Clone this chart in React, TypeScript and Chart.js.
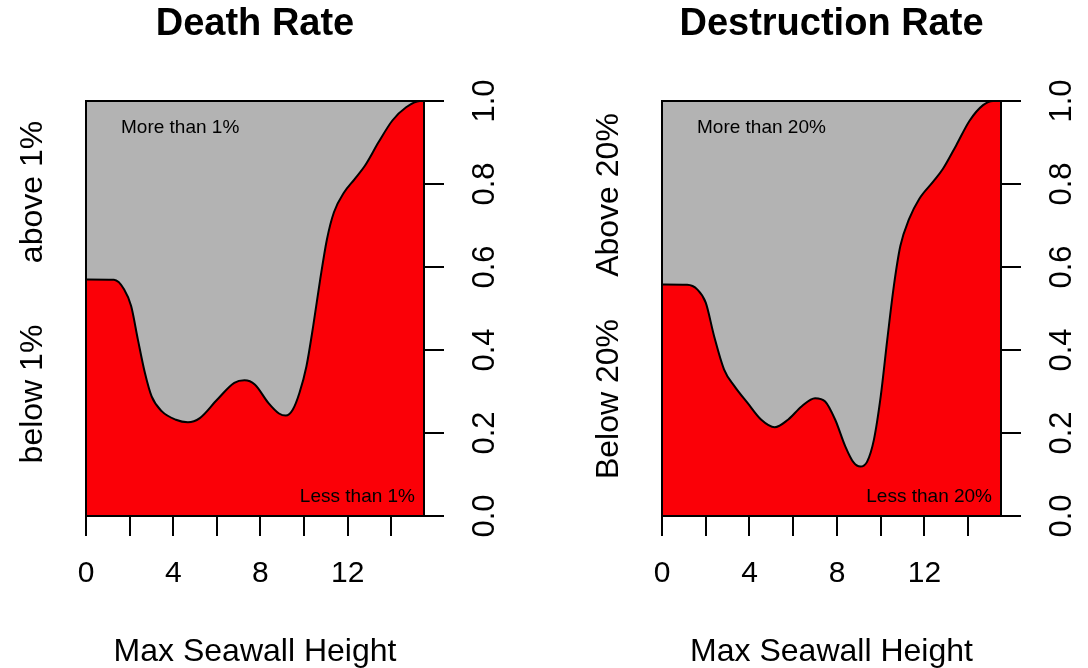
import React, { useEffect, useRef } from "react";
import { Chart, registerables } from "chart.js";

Chart.register(...registerables);

const FONT = '"Liberation Sans", Arial, Helvetica, sans-serif';

// tick values and labels
const xTickValues = [0, 2, 4, 6, 8, 10, 12, 14];
const xTickLabels = ["0", "", "4", "", "8", "", "12", ""];
const yTickValues = [0, 0.2, 0.4, 0.6, 0.8, 1.0];
const yTickLabels = ["0.0", "0.2", "0.4", "0.6", "0.8", "1.0"];

// Death rate panel
const deathHeight = [0, 1.28, 1.75, 2.07, 2.38, 2.7, 3.01, 3.48, 4.12, 4.67, 5.22, 6.01, 6.8, 7.27, 7.74, 8.37, 8.85, 9.16, 9.48, 9.79, 10.11, 10.42, 10.74, 11.05, 11.37, 11.84, 12.32, 12.79, 13.42, 14.05, 14.68, 15.31, 15.5];
const deathShare = [0.57, 0.569, 0.546, 0.506, 0.425, 0.345, 0.288, 0.252, 0.232, 0.226, 0.236, 0.28, 0.321, 0.327, 0.317, 0.272, 0.247, 0.242, 0.256, 0.297, 0.361, 0.458, 0.57, 0.667, 0.732, 0.78, 0.812, 0.844, 0.901, 0.953, 0.985, 1.0, 1.0];

// Destruction rate panel
const destrHeight = [0, 1.15, 1.61, 2.0, 2.38, 2.84, 3.31, 3.92, 4.54, 5.15, 5.76, 6.38, 7.0, 7.46, 7.92, 8.38, 8.76, 9.07, 9.38, 9.69, 10.0, 10.3, 10.6, 10.9, 11.3, 11.76, 12.37, 12.84, 13.45, 14.07, 14.68, 15.14, 15.5];
const destrShare = [0.558, 0.557, 0.546, 0.514, 0.434, 0.353, 0.313, 0.272, 0.232, 0.214, 0.232, 0.264, 0.284, 0.276, 0.232, 0.168, 0.129, 0.119, 0.131, 0.184, 0.288, 0.425, 0.554, 0.651, 0.716, 0.764, 0.804, 0.836, 0.893, 0.953, 0.99, 1.0, 1.0];

const X_MAX = 15.5;
const RED = "#fb0007";
const GRAY = "#b3b3b3";

const panelText = {
  id: "panelText",
  afterDraw(chart: any, _args: any, opts: any) {
    const { ctx, chartArea: a } = chart;
    ctx.save();
    ctx.strokeStyle = "#000";
    ctx.lineWidth = 2;
    ctx.strokeRect(a.left, a.top, a.right - a.left, a.bottom - a.top);
    ctx.fillStyle = "#000";
    ctx.font = `19px ${FONT}`;
    ctx.textBaseline = "alphabetic";
    ctx.textAlign = "left";
    ctx.fillText(opts.upper, a.left + 35, a.top + 32);
    ctx.textAlign = "right";
    ctx.fillText(opts.lower, a.right - 9, a.bottom - 14);
    ctx.font = `32px ${FONT}`;
    ctx.textAlign = "center";
    const items: [string, number][] = [
      [opts.sideTop, a.top + opts.sideTopOff],
      [opts.sideBottom, a.top + opts.sideBottomOff],
    ];
    items.forEach(([t, y]) => {
      ctx.save();
      ctx.translate(a.left - 44, y);
      ctx.rotate(-Math.PI / 2);
      ctx.fillText(t, 0, 0);
      ctx.restore();
    });
    ctx.restore();
  },
};

type PanelProps = {
  title: string;
  xs: number[];
  ys: number[];
  upper: string;
  lower: string;
  sideTop: string;
  sideBottom: string;
  sideTopOff: number;
  sideBottomOff: number;
  padLeft: number;
  yAxisWidth: number;
};

function Panel(p: PanelProps) {
  const ref = useRef<HTMLCanvasElement>(null);
  useEffect(() => {
    const pts = p.xs.map((x, i) => ({ x, y: p.ys[i] }));
    const chart = new Chart(ref.current as HTMLCanvasElement, {
      type: "line",
      data: {
        datasets: [
          {
            data: pts,
            fill: "origin",
            backgroundColor: RED,
            borderColor: "#000",
            borderWidth: 2,
            pointRadius: 0,
            cubicInterpolationMode: "monotone",
          },
          {
            data: pts,
            fill: "end",
            backgroundColor: GRAY,
            borderWidth: 0,
            borderColor: "rgba(0,0,0,0)",
            pointRadius: 0,
            cubicInterpolationMode: "monotone",
          },
        ],
      },
      options: {
        animation: false,
        responsive: false,
        devicePixelRatio: 1,
        layout: { padding: { left: p.padLeft, top: 0, right: 0, bottom: 0 } },
        plugins: {
          legend: { display: false },
          tooltip: { enabled: false },
          title: {
            display: true,
            text: p.title,
            fullSize: false,
            color: "#000",
            font: { family: FONT, size: 38, weight: "bold", lineHeight: 1 },
            padding: { top: 6, bottom: 57 },
          },
          panelText: {
            upper: p.upper,
            lower: p.lower,
            sideTop: p.sideTop,
            sideBottom: p.sideBottom,
            sideTopOff: p.sideTopOff,
            sideBottomOff: p.sideBottomOff,
          },
        } as any,
        scales: {
          x: {
            type: "linear",
            position: "bottom",
            min: 0,
            max: X_MAX,
            afterBuildTicks: (s: any) => {
              s.ticks = xTickValues.map((v) => ({ value: v }));
            },
            afterFit: (s: any) => {
              s.height = 152;
            },
            ticks: {
              autoSkip: false,
              maxRotation: 0,
              minRotation: 0,
              padding: 20,
              color: "#000",
              font: { family: FONT, size: 30 },
              callback: (_v: any, i: number) => xTickLabels[i],
            },
            grid: {
              drawOnChartArea: false,
              drawTicks: true,
              tickLength: 20,
              tickColor: "#000",
              tickWidth: 2,
              color: "#000",
              lineWidth: 2,
            },
            border: { display: true, color: "#000", width: 2 },
            title: {
              display: true,
              text: "Max Seawall Height",
              color: "#000",
              font: { family: FONT, size: 32, lineHeight: 1 },
              padding: { top: 0, bottom: 0 },
            },
          },
          y: {
            type: "linear",
            position: "right",
            min: 0,
            max: 1,
            afterBuildTicks: (s: any) => {
              s.ticks = yTickValues.map((v) => ({ value: v }));
            },
            afterFit: (s: any) => {
              s.width = p.yAxisWidth;
            },
            ticks: {
              autoSkip: false,
              minRotation: 90,
              maxRotation: 90,
              crossAlign: "center",
              padding: 20,
              color: "#000",
              font: { family: FONT, size: 31 },
              callback: (_v: any, i: number) => yTickLabels[i],
            },
            grid: {
              drawOnChartArea: false,
              drawTicks: true,
              tickLength: 20,
              tickColor: "#000",
              tickWidth: 2,
              color: "#000",
              lineWidth: 2,
            },
            border: { display: true, color: "#000", width: 2 },
          },
        },
      } as any,
      plugins: [panelText],
    });
    return () => chart.destroy();
  }, []);
  return <canvas ref={ref} width={544} height={668} style={{ display: "block", width: 544, height: 668 }} />;
}

export default function App() {
  return (
    <div style={{ position: "absolute", left: 0, top: 0, width: 1088, height: 668, background: "#fff", display: "flex" }}>
      <Panel
        title="Death Rate"
        xs={deathHeight}
        ys={deathShare}
        upper="More than 1%"
        lower="Less than 1%"
        sideTop="above 1%"
        sideBottom="below 1%"
        sideTopOff={91}
        sideBottomOff={293}
        padLeft={86}
        yAxisWidth={120}
      />
      <Panel
        title="Destruction Rate"
        xs={destrHeight}
        ys={destrShare}
        upper="More than 20%"
        lower="Less than 20%"
        sideTop="Above 20%"
        sideBottom="Below 20%"
        sideTopOff={94}
        sideBottomOff={298}
        padLeft={118}
        yAxisWidth={87}
      />
    </div>
  );
}
